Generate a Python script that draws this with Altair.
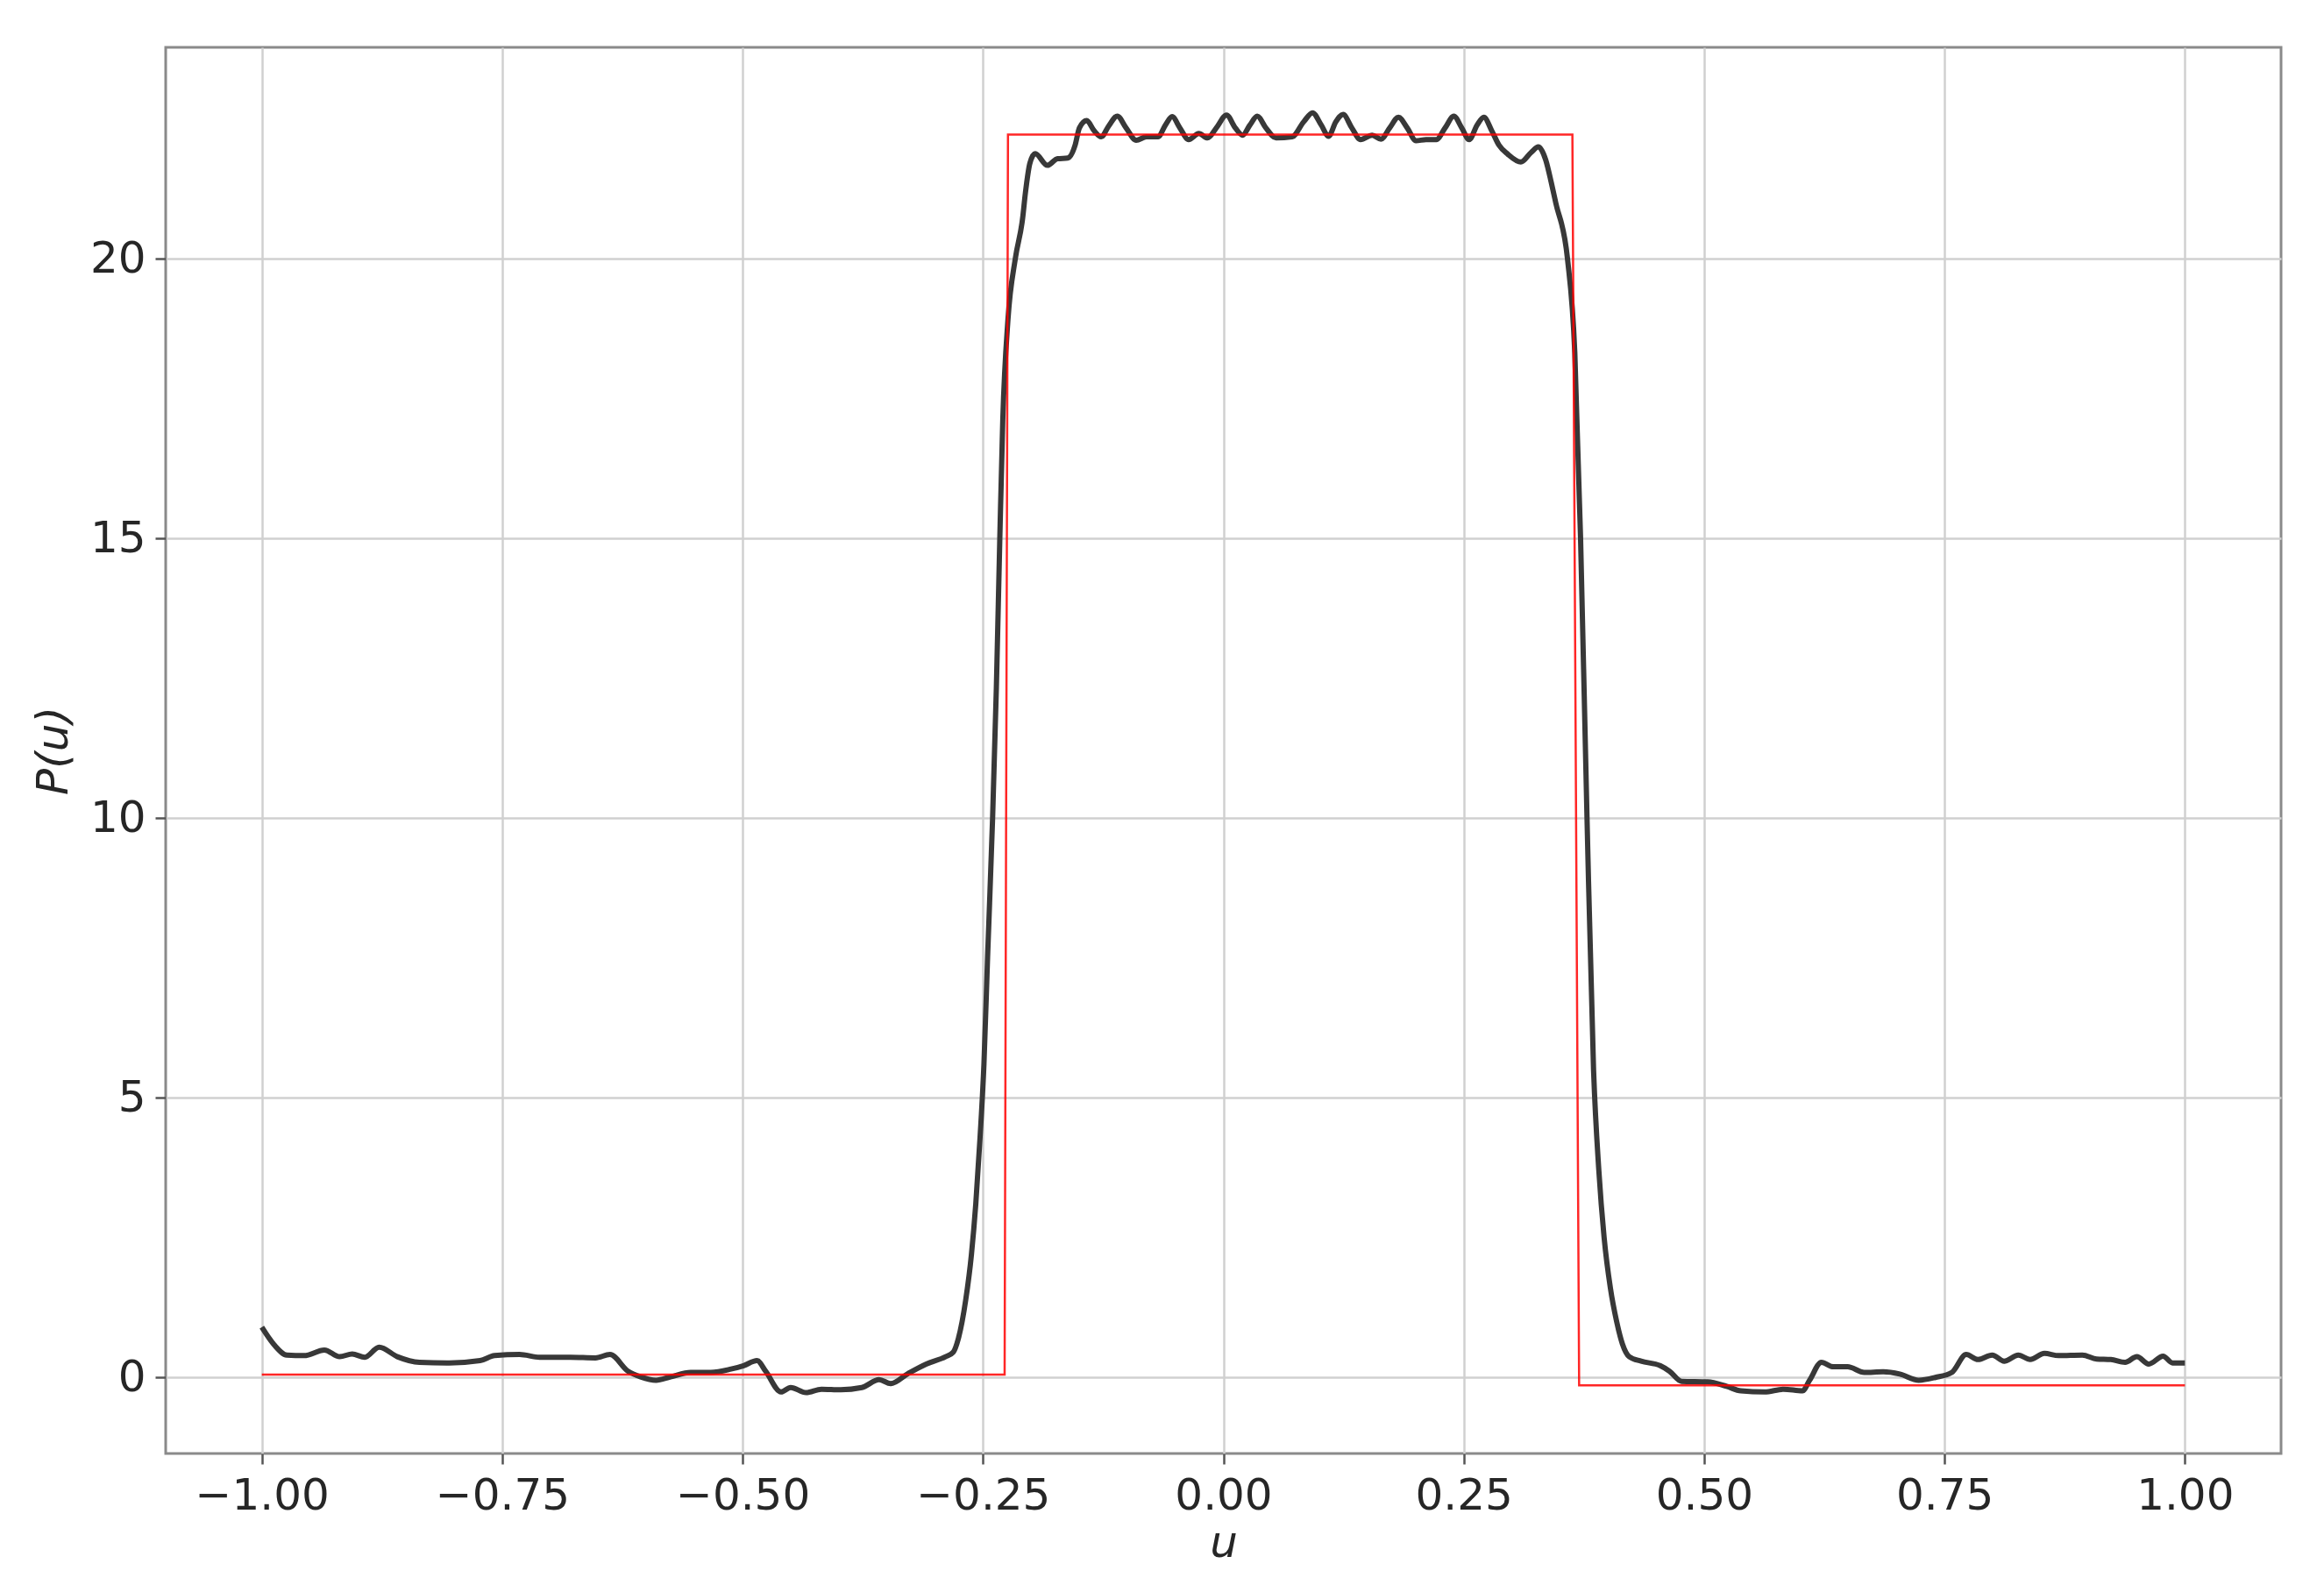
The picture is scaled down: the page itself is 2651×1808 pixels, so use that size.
import altair as alt
import pandas as pd

# Black curve (estimated density)
u_black = [
    -1.000, -0.987, -0.974, -0.956, -0.935, -0.919, -0.906, -0.893, -0.878, -0.859,
    -0.836, -0.805, -0.773, -0.758, -0.732, -0.711, -0.679, -0.653, -0.638, -0.619,
    -0.606, -0.590, -0.575, -0.554, -0.533, -0.512, -0.499, -0.485, -0.476, -0.460,
    -0.450, -0.434, -0.418, -0.398, -0.376, -0.358, -0.346, -0.328, -0.309, -0.289,
    -0.281, -0.2757, -0.268, -0.2620, -0.2575, -0.2530, -0.2490, -0.2452, -0.240, -0.2361,
    -0.2325, -0.2294, -0.2240, -0.2164, -0.2088, -0.2058, -0.2012, -0.1957, -0.183, -0.1724,
    -0.1618, -0.1542, -0.1497, -0.1421, -0.1345, -0.127, -0.1194, -0.1103, -0.1012, -0.0906,
    -0.080, -0.0679, -0.0603, -0.0533, -0.0452, -0.0361, -0.0255, -0.0164, -0.0073, 0.0033,
    0.0124, 0.020, 0.0276, 0.0352, 0.0442, 0.0548, 0.0715, 0.0836, 0.0927, 0.1018,
    0.1094, 0.117, 0.1245, 0.1336, 0.1427, 0.1548, 0.1639, 0.173, 0.1821, 0.1912,
    0.2003, 0.2109, 0.2215, 0.2306, 0.2397, 0.2479, 0.2557, 0.2639, 0.2709, 0.2791,
    0.2867, 0.2958, 0.3094, 0.320, 0.3276, 0.3352, 0.3412, 0.3457, 0.3579, 0.3655,
    0.3715, 0.3782, 0.3850, 0.3905, 0.3960, 0.4025, 0.4090, 0.4150, 0.4222, 0.4345,
    0.4543, 0.4641, 0.4765, 0.5036, 0.5234, 0.5382, 0.5628, 0.5826, 0.6023, 0.6097,
    0.622, 0.6344, 0.6492, 0.6665, 0.6862, 0.7035, 0.7232, 0.7405, 0.7577, 0.7726,
    0.7848, 0.7996, 0.812, 0.8268, 0.8391, 0.8539, 0.8687, 0.8934, 0.9082, 0.923,
    0.9378, 0.9501, 0.9624, 0.9773, 0.9871, 1.000,
]
p_black = [
    0.90, 0.58, 0.40, 0.39, 0.49, 0.37, 0.42, 0.36, 0.54, 0.37,
    0.27, 0.26, 0.30, 0.39, 0.41, 0.36, 0.36, 0.35, 0.41, 0.11,
    0.01, -0.05, 0.01, 0.09, 0.09, 0.15, 0.21, 0.30, 0.11, -0.26,
    -0.18, -0.27, -0.21, -0.22, -0.18, -0.04, -0.11, 0.07, 0.24, 0.37,
    0.45, 0.69, 1.38, 2.20, 3.10, 4.30, 5.60, 7.52, 10.00, 12.32,
    15.00, 17.12, 18.92, 20.00, 20.72, 21.19, 21.71, 21.88, 21.67, 21.79,
    21.80, 22.03, 22.34, 22.47, 22.29, 22.18, 22.37, 22.55, 22.34, 22.12,
    22.18, 22.18, 22.39, 22.54, 22.34, 22.13, 22.24, 22.16, 22.34, 22.57,
    22.34, 22.21, 22.39, 22.55, 22.34, 22.16, 22.18, 22.45, 22.61, 22.39,
    22.19, 22.45, 22.58, 22.34, 22.13, 22.21, 22.14, 22.34, 22.53, 22.34,
    22.11, 22.13, 22.13, 22.34, 22.55, 22.34, 22.13, 22.39, 22.53, 22.29,
    22.03, 21.87, 21.73, 21.90, 22.00, 21.77, 21.35, 21.00, 20.00, 18.32,
    15.00, 10.00, 5.50, 3.70, 2.50, 1.60, 1.00, 0.60, 0.37, 0.29,
    0.21, 0.11, -0.07, -0.08, -0.16, -0.24, -0.26, -0.21, -0.24, -0.05,
    0.27, 0.19, 0.19, 0.09, 0.10, 0.06, -0.05, 0.00, 0.09, 0.41,
    0.32, 0.40, 0.29, 0.40, 0.32, 0.43, 0.39, 0.40, 0.33, 0.32,
    0.27, 0.37, 0.24, 0.38, 0.26, 0.26,
]

# Red step (true density)
u_red = [-1.0, -0.2275, -0.224, 0.363, 0.370, 1.0]
p_red = [0.05, 0.05, 22.22, 22.22, -0.14, -0.14]

x_ticks = [-1.0, -0.75, -0.5, -0.25, 0.0, 0.25, 0.5, 0.75, 1.0]
y_ticks = [0, 5, 10, 15, 20]

df_b = pd.DataFrame({"u": u_black, "P": p_black})
df_r = pd.DataFrame({"u": u_red, "P": p_red})

FONT = "DejaVu Sans"
xs = alt.Scale(domain=[-1.1, 1.1], nice=False, zero=False)
ys = alt.Scale(domain=[-1.36, 23.78], nice=False, zero=False)

common_axis = dict(
    labelFont=FONT, labelFontSize=50, labelColor="#262626",
    titleFont=FONT, titleFontSize=50, titleColor="#262626",
    titleFontStyle="italic", titleFontWeight="normal",
    tickSize=12, tickWidth=2.5, tickColor="#555555",
    grid=True, gridColor="#d0d0d0", gridWidth=2.5,
    domain=False,
)

xax = alt.Axis(values=x_ticks, format=".2f", title="u", labelPadding=11,
               titlePadding=4, **common_axis)
yax = alt.Axis(values=y_ticks, format="d", title="P(u)", labelPadding=11,
               titlePadding=16, **common_axis)

black = alt.Chart(df_b).mark_line(
    color="#383838", strokeWidth=6, interpolate="monotone"
).encode(
    x=alt.X("u:Q", scale=xs, axis=xax),
    y=alt.Y("P:Q", scale=ys, axis=yax),
)

red = alt.Chart(df_r).mark_line(
    color="#ff0000", strokeWidth=2.5, opacity=0.85
).encode(
    x=alt.X("u:Q", scale=xs),
    y=alt.Y("P:Q", scale=ys),
)

chart = alt.layer(black, red).properties(
    width=2413,
    height=1604,
    autosize=alt.AutoSizeParams(type="none"),
    padding={"left": 181, "top": 46, "right": 41, "bottom": 142},
    background="white",
).configure_view(
    stroke="#8a8a8a", strokeWidth=3
)

chart.save("out.html", embed_options={"renderer": "svg", "actions": False})
